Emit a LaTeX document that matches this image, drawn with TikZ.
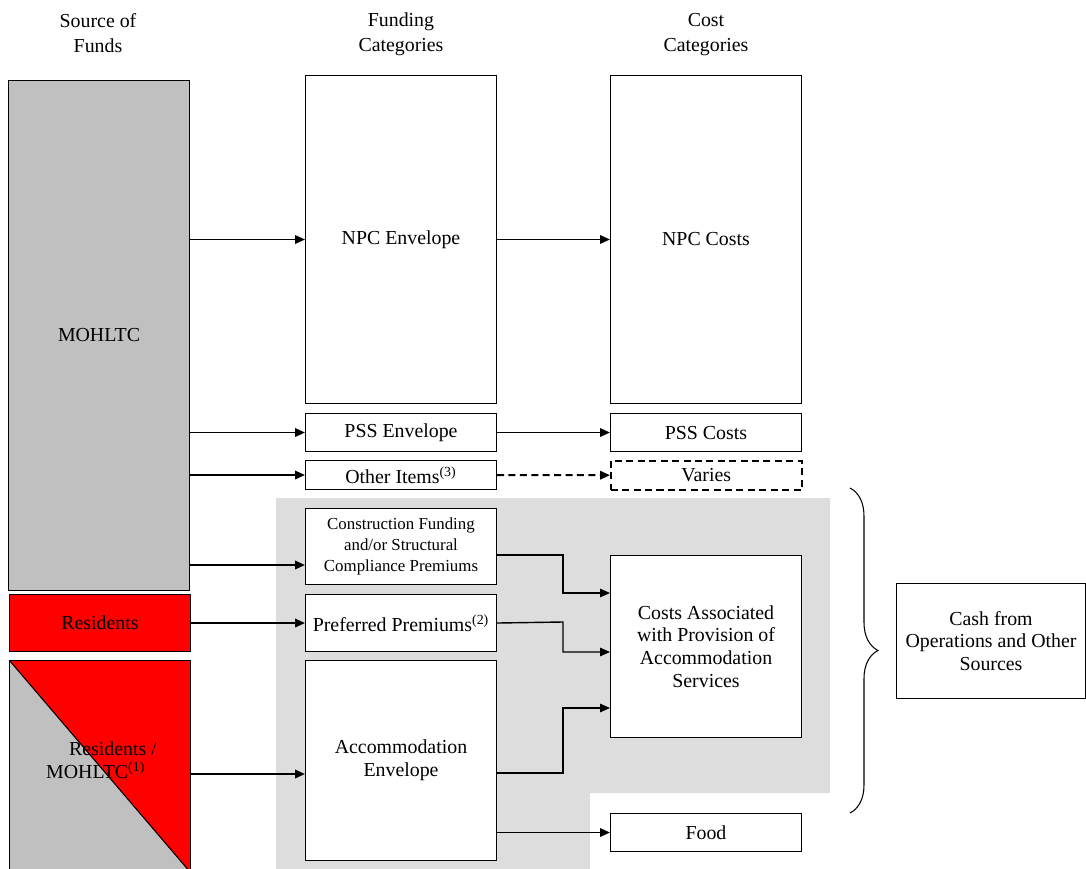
\documentclass[tikz,border=0pt]{standalone}
\usepackage{fontspec}
\setmainfont{Liberation Serif}
\usetikzlibrary{arrows.meta, positioning, decorations.pathreplacing, backgrounds}
\definecolor{fundGray}{RGB}{192,192,192}
\definecolor{shadeGray}{RGB}{221,221,221}
\definecolor{resRed}{RGB}{255,0,0}

\begin{document}
\begin{tikzpicture}[
    x=0.02cm, y=-0.02cm,
    font=\fontsize{11.3}{13}\selectfont,
    header/.style={align=center, font=\fontsize{11.3}{14.2}\selectfont},
    box/.style={rectangle, draw, line width=0.6pt, fill=white, anchor=north west, inner sep=1pt, align=center},
    srcbox/.style={box, minimum width=3.62cm},
    catbox/.style={box, minimum width=3.82cm},
    arrow/.style={-{Triangle[length=2mm, width=1.7mm]}, line width=1.1pt},
    elbow/.style={-{Triangle[length=2mm, width=1.7mm]}, line width=0.8pt},
    varybox/.style={catbox, dash pattern=on 4pt off 2.5pt, line width=0.9pt}
]
\useasboundingbox (0,0) rectangle (1086,869);

% shaded accommodation area
\fill[shadeGray] (276,498) -- (830,498) -- (830,793) -- (590,793) -- (590,869) -- (276,869) -- cycle;

% column headers
\node[header] (srchead) at (98,33) {Source of\\Funds};
\node[header] (fundhead) at (401,34) {Funding\\Categories};
\node[header] (costhead) at (706,35) {Cost\\Categories};

% sources of funds
\node[srcbox, fill=fundGray, minimum height=10.2cm] (mohltc) at (8,80) {MOHLTC};
\node[srcbox, fill=resRed, minimum height=1.14cm] (residents) at (9,594) {Residents};
\node[srcbox, fill=fundGray, minimum height=4.24cm,
      path picture={\fill[resRed] (path picture bounding box.north west) -- (path picture bounding box.north east)
                     -- (path picture bounding box.south east) -- cycle;
                    \draw[line width=0.6pt] (path picture bounding box.north west) -- (path picture bounding box.south east);}
     ] (resmoh) at (9,660) {};
\node[anchor=west, align=left] (resmohlabel) at (40,760) {\hspace*{13pt}Residents /\\MOHLTC\textsuperscript{(1)}};

% funding categories
\node[catbox, minimum height=6.56cm] (npcenv) at (305,75) {NPC Envelope};
\node[catbox, minimum height=0.76cm] (pssenv) at (305,413) {PSS Envelope};
\node[catbox, minimum height=0.58cm] (otherenv) at (305,460) {Other Items\textsuperscript{(3)}};
\node[catbox, minimum height=1.52cm, font=\fontsize{9.6}{12}\selectfont] (cons) at (305,508)
    {Construction Funding\\and/or Structural\\Compliance Premiums};
\node[catbox, minimum height=1.14cm] (pref) at (305,594) {Preferred Premiums\textsuperscript{(2)}};
\node[catbox, minimum height=4cm] (accom) at (305,660) {Accommodation\\Envelope};

% cost categories
\node[catbox, minimum height=6.56cm] (npccost) at (610,75) {NPC Costs};
\node[catbox, minimum height=0.76cm] (psscost) at (610,413) {PSS Costs};
\node[varybox, minimum height=0.58cm] (varies) at (610,460) {Varies};
\node[catbox, minimum height=3.64cm] (costsacc) at (610,555)
    {Costs Associated\\with Provision of\\Accommodation\\Services};
\node[catbox, minimum height=0.76cm] (food) at (610,813) {Food};

\node[box, minimum width=3.78cm, minimum height=2.3cm] (cash) at (896,583)
    {Cash from\\Operations and Other\\Sources};

% flows
\draw[arrow] (mohltc.east |- npcenv.west) -- (npcenv.west);
\draw[arrow] (npcenv) -- (npccost);
\draw[arrow] (mohltc.east |- pssenv.west) -- (pssenv.west);
\draw[arrow] (pssenv) -- (psscost);
\draw[arrow] (mohltc.east |- otherenv.west) -- (otherenv.west);
\draw[arrow, dash pattern=on 4pt off 2.5pt] (otherenv) -- (varies);
\draw[arrow] (mohltc.east |- 0,565) -- (cons.west |- 0,565);
\draw[arrow] (residents) -- (pref);
\draw[arrow] (resmoh.east |- 0,774) -- (accom.west |- 0,774);

\draw[elbow] (cons.east |- 0,555) -- (563,555) |- (costsacc.west |- 0,593);
\draw[elbow] (pref.east) -- (563,622) |- (costsacc.west |- 0,652);
\draw[elbow] (accom.east |- 0,773) -- (563,773) |- (costsacc.west |- 0,708);
\draw[arrow] (accom.east |- food.west) -- (food.west);

% brace
\coordinate (bracetop) at (850,488);
\coordinate (bracebot) at (850,813);
\draw[line width=0.6pt, decorate, decoration={brace, amplitude=0.56cm, aspect=0.5}] (bracetop) -- (bracebot);

\end{tikzpicture}
\end{document}
